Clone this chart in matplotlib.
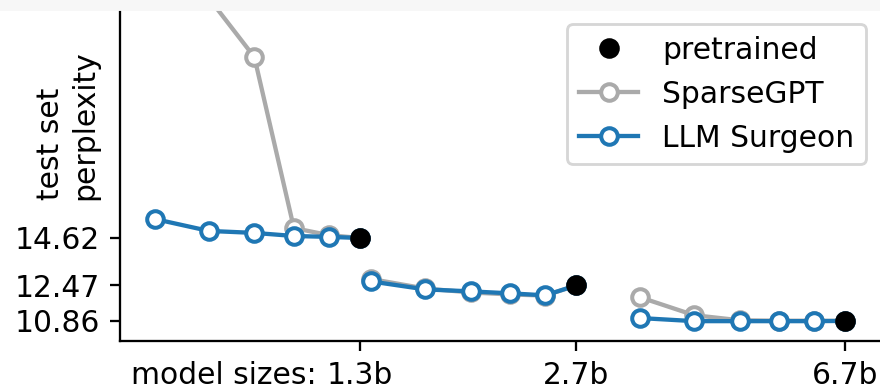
import matplotlib
matplotlib.use('Agg')
import matplotlib.pyplot as plt
from matplotlib.patches import Rectangle
from matplotlib.ticker import NullLocator, FixedLocator, FixedFormatter

# OPT model sizes (billions of parameters) and kept-weight fractions
model_sizes = [1.3, 2.7, 6.7]
size_labels = ['1.3b', '2.7b', '6.7b']
fractions = [0.5, 0.6, 0.7, 0.8, 0.9, 1.0]

# dense baseline perplexity per model
pretrained = [14.62, 12.47, 10.86]

# perplexity per target size, one list per model (last entry = dense)
sparsegpt = [
    [40.0, 25.5, 22.82, 15.07, 14.75, 14.62],
    [12.76, 12.33, 12.15, 12.06, 12.01, 12.47],
    [11.93, 11.12, 10.89, 10.87, 10.87, 10.86],
]
llm_surgeon = [
    [15.48, 14.94, 14.85, 14.71, 14.67, 14.62],
    [12.65, 12.29, 12.20, 12.11, 12.02, 12.47],
    [10.99, 10.85, 10.85, 10.85, 10.85, 10.86],
]

grey = '#aaaaaa'
blue = '#1f77b4'
fs = 10.4

plt.rcParams['font.size'] = fs

dpi = 206
fig = plt.figure(figsize=(881 / dpi, 389 / dpi), dpi=dpi)
ax = fig.add_axes([120 / 881, 48 / 389, 761 / 881, 332 / 389])

line_kw = dict(marker='o', markersize=5.8, markeredgewidth=1.4,
               markerfacecolor='white', linewidth=1.5)

h_sgpt = h_surg = h_pre = None
for i, size in enumerate(model_sizes):
    xs = [size * f for f in fractions]
    h_sgpt, = ax.plot(xs, sparsegpt[i], color=grey, zorder=2, **line_kw)
    h_surg, = ax.plot(xs, llm_surgeon[i], color=blue, zorder=3, **line_kw)
    h_pre, = ax.plot([size], [pretrained[i]], 'o', color='black',
                     markersize=6.2, zorder=4, clip_on=False)

ax.set_xscale('log')
ax.set_xlim(0.578, 7.557)
ax.set_ylim(9.95, 25.0)

ax.xaxis.set_major_locator(FixedLocator(model_sizes))
ax.xaxis.set_major_formatter(FixedFormatter(size_labels))
ax.xaxis.set_minor_locator(NullLocator())
ax.set_yticks(pretrained)
ax.set_yticklabels(['%.2f' % v for v in pretrained])

ax.spines['top'].set_visible(False)
ax.spines['right'].set_visible(False)

# prefix in front of the first size label
ax.annotate('model sizes:', xy=(model_sizes[0], 0),
            xycoords=('data', 'axes fraction'),
            xytext=(-43, -20), textcoords='offset pixels',
            ha='right', va='top', fontsize=fs)

fig.text(67.5 / 881, 1 - 125 / 389, 'test set\nperplexity', rotation=90,
         ha='center', va='center', multialignment='left',
         linespacing=1.25, fontsize=fs)

ax.legend([h_pre, h_sgpt, h_surg], ['pretrained', 'SparseGPT', 'LLM Surgeon'],
          loc='upper right', fontsize=fs)

# light strip along the top edge
fig.add_artist(Rectangle((0, 1 - 9 / 389), 1, 9 / 389,
                         transform=fig.transFigure, color='#f7f7f7',
                         zorder=10))

fig.savefig('out.png', dpi=dpi)
